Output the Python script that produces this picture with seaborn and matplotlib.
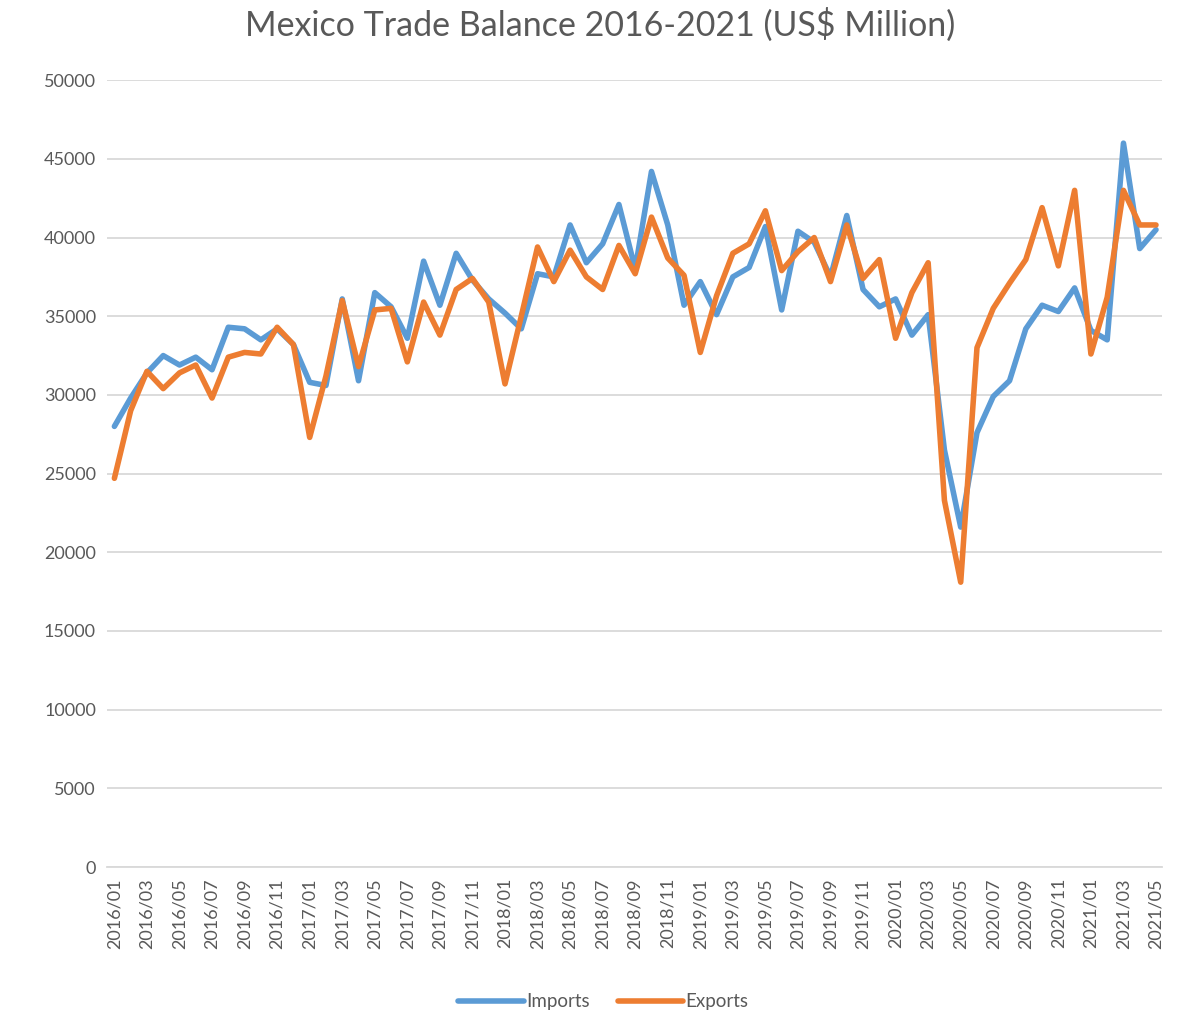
import pandas as pd
import matplotlib.pyplot as plt
import seaborn as sns

# monthly values, 2016/01 .. 2021/05 (US$ million)
months = [f"{y}/{m:02d}" for y in range(2016, 2022) for m in range(1, 13)][:65]

imports = [
    28000, 29800, 31400, 32500, 31900, 32400, 31600, 34300, 34200, 33500, 34200, 33200,
    30800, 30600, 36100, 30900, 36500, 35600, 33600, 38500, 35700, 39000, 37300, 36100,
    35200, 34200, 37700, 37500, 40800, 38400, 39600, 42100, 38000, 44200, 40800, 35700,
    37200, 35100, 37500, 38100, 40700, 35400, 40400, 39700, 37500, 41400, 36700, 35600,
    36100, 33800, 35100, 26500, 21600, 27600, 29900, 30900, 34200, 35700, 35300, 36800,
    34100, 33500, 46000, 39300, 40500,
]
exports = [
    24700, 29000, 31500, 30400, 31400, 31900, 29800, 32400, 32700, 32600, 34300, 33200,
    27300, 31200, 36000, 31800, 35400, 35500, 32100, 35900, 33800, 36700, 37400, 35900,
    30700, 35000, 39400, 37200, 39200, 37500, 36700, 39500, 37700, 41300, 38700, 37600,
    32700, 36300, 39000, 39600, 41700, 37900, 39100, 40000, 37200, 40800, 37400, 38600,
    33600, 36500, 38400, 23300, 18100, 33000, 35500, 37100, 38600, 41900, 38200, 43000,
    32600, 36200, 43000, 40800, 40800,
]

df = pd.DataFrame({"idx": range(len(months)), "Imports": imports, "Exports": exports})
long = df.melt(id_vars="idx", var_name="series", value_name="value")

sns.set_style("white")
plt.rcParams['font.family'] = ['Lato', 'DejaVu Sans']
grey = "#595959"

fig = plt.figure(figsize=(11.83, 10.15), dpi=100)
ax = fig.add_axes([0.0905, 0.1458, 0.8915, 0.7752])

sns.lineplot(data=long, x="idx", y="value", hue="series", ax=ax,
             palette={"Imports": "#5b9bd5", "Exports": "#ed7d31"},
             linewidth=4.0, legend=False, zorder=3)
for ln in ax.lines:
    ln.set_solid_joinstyle("round")
    ln.set_solid_capstyle("round")

ax.set_xlim(-0.45, 64.35)
ax.set_ylim(0, 50000)
ax.set_yticks(range(0, 50001, 5000))
ax.set_xticks(range(0, 65, 2))
ax.set_xticklabels(months[::2], rotation=90)
ax.grid(axis="y", color="#d9d9d9", linewidth=1.3, zorder=0)
ax.tick_params(axis="both", colors=grey, labelsize=13, length=0, pad=8)
for s in ["top", "right", "left"]:
    ax.spines[s].set_visible(False)
ax.spines["bottom"].set_color("#d9d9d9")
ax.spines["bottom"].set_linewidth(1.3)
ax.set_xlabel("")
ax.set_ylabel("")

fig.suptitle("Mexico Trade Balance 2016-2021 (US$ Million)", x=0.507, y=0.992,
             fontsize=24.5, color=grey)

handles = [plt.Line2D([], [], color="#5b9bd5", lw=4.0),
           plt.Line2D([], [], color="#ed7d31", lw=4.0)]
fig.legend(handles, ["Imports", "Exports"], loc="lower center", ncol=2,
           bbox_to_anchor=(0.51, -0.012), frameon=False, fontsize=13.5,
           labelcolor=grey, handlelength=3.5, handletextpad=0.1, columnspacing=1.5)

plt.savefig("out.png", dpi=100)
